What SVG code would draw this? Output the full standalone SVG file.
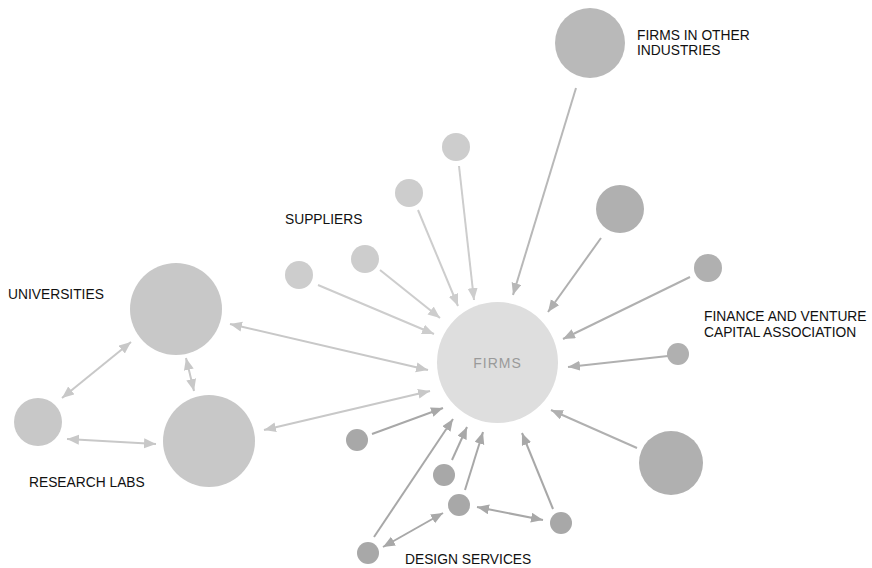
<svg xmlns="http://www.w3.org/2000/svg" width="872" height="568" viewBox="0 0 872 568">
<style>
text{font-family:"Liberation Sans",Arial,sans-serif;font-size:13.8px;fill:#111}
.lc{stroke-width:2;fill:none}
.sup{stroke:#cdcdcd}.uni{stroke:#c8c8c8}.oth{stroke:#b8b8b8}.fin{stroke:#b0b0b0}.des{stroke:#a8a8a8}
</style>
<defs>
<marker id="aS" markerUnits="userSpaceOnUse" markerWidth="13" markerHeight="11" refX="12" refY="5" orient="auto-start-reverse"><path d="M0,0 L12,5 L0,10 z" fill="#cdcdcd"/></marker>
<marker id="aU" markerUnits="userSpaceOnUse" markerWidth="13" markerHeight="11" refX="12" refY="5" orient="auto-start-reverse"><path d="M0,0 L12,5 L0,10 z" fill="#c8c8c8"/></marker>
<marker id="aO" markerUnits="userSpaceOnUse" markerWidth="13" markerHeight="11" refX="12" refY="5" orient="auto-start-reverse"><path d="M0,0 L12,5 L0,10 z" fill="#b8b8b8"/></marker>
<marker id="aF" markerUnits="userSpaceOnUse" markerWidth="13" markerHeight="11" refX="12" refY="5" orient="auto-start-reverse"><path d="M0,0 L12,5 L0,10 z" fill="#b0b0b0"/></marker>
<marker id="aD" markerUnits="userSpaceOnUse" markerWidth="13" markerHeight="11" refX="12" refY="5" orient="auto-start-reverse"><path d="M0,0 L12,5 L0,10 z" fill="#a8a8a8"/></marker>
</defs>
<g id="connectors">
<line class="lc sup" x1="318" y1="285" x2="434" y2="334" marker-end="url(#aS)"/>
<line class="lc sup" x1="380" y1="270" x2="440" y2="318" marker-end="url(#aS)"/>
<line class="lc sup" x1="418" y1="210" x2="458" y2="306" marker-end="url(#aS)"/>
<line class="lc sup" x1="459" y1="166" x2="474" y2="300" marker-end="url(#aS)"/>
<line class="lc oth" x1="576" y1="88" x2="513" y2="295" marker-end="url(#aO)"/>
<line class="lc fin" x1="601" y1="238" x2="548" y2="312" marker-end="url(#aF)"/>
<line class="lc fin" x1="690" y1="277" x2="563" y2="339" marker-end="url(#aF)"/>
<line class="lc fin" x1="668" y1="356" x2="568" y2="367" marker-end="url(#aF)"/>
<line class="lc fin" x1="637" y1="448" x2="551" y2="410" marker-end="url(#aF)"/>
<line class="lc uni" x1="230" y1="324" x2="428" y2="370" marker-start="url(#aU)" marker-end="url(#aU)"/>
<line class="lc uni" x1="264" y1="430" x2="430" y2="391" marker-start="url(#aU)" marker-end="url(#aU)"/>
<line class="lc uni" x1="131" y1="342" x2="62" y2="398" marker-start="url(#aU)" marker-end="url(#aU)"/>
<line class="lc uni" x1="186" y1="358" x2="194" y2="391" marker-start="url(#aU)" marker-end="url(#aU)"/>
<line class="lc uni" x1="67" y1="439" x2="156" y2="444" marker-start="url(#aU)" marker-end="url(#aU)"/>
<line class="lc des" x1="372" y1="434" x2="443" y2="408" marker-end="url(#aD)"/>
<line class="lc des" x1="374" y1="537" x2="453" y2="419" marker-end="url(#aD)"/>
<line class="lc des" x1="452" y1="460" x2="467" y2="427" marker-end="url(#aD)"/>
<line class="lc des" x1="465" y1="490" x2="483" y2="432" marker-end="url(#aD)"/>
<line class="lc des" x1="553" y1="509" x2="522" y2="433" marker-end="url(#aD)"/>
<line class="lc des" x1="477" y1="507" x2="543" y2="520" marker-start="url(#aD)" marker-end="url(#aD)"/>
<line class="lc des" x1="383" y1="547" x2="443" y2="513" marker-start="url(#aD)" marker-end="url(#aD)"/>
</g>
<g id="firms"><circle cx="497.5" cy="362.5" r="60.5" fill="#dedede"/><text x="497.5" y="368" text-anchor="middle" style="fill:#9a9a9a;font-size:14px;letter-spacing:1px">FIRMS</text></g>
<g id="other-industries"><circle cx="590" cy="43" r="35" fill="#b9b9b9"/></g>
<g id="finance-1"><circle cx="620" cy="209" r="24" fill="#b0b0b0"/></g>
<g id="finance-2"><circle cx="708" cy="268" r="14" fill="#b0b0b0"/></g>
<g id="finance-3"><circle cx="678" cy="354" r="11" fill="#b0b0b0"/></g>
<g id="finance-4"><circle cx="671" cy="463" r="32" fill="#b0b0b0"/></g>
<g id="supplier-1"><circle cx="299" cy="275" r="14" fill="#cdcdcd"/></g>
<g id="supplier-2"><circle cx="365" cy="259" r="14" fill="#cdcdcd"/></g>
<g id="supplier-3"><circle cx="409" cy="193" r="14" fill="#cdcdcd"/></g>
<g id="supplier-4"><circle cx="456" cy="147" r="14" fill="#cdcdcd"/></g>
<g id="universities"><circle cx="176" cy="309" r="46" fill="#c8c8c8"/></g>
<g id="research-lab-big"><circle cx="209" cy="441" r="46" fill="#c8c8c8"/></g>
<g id="research-lab-small"><circle cx="38" cy="422" r="24" fill="#c8c8c8"/></g>
<g id="design-1"><circle cx="357" cy="440" r="11" fill="#a8a8a8"/></g>
<g id="design-2"><circle cx="444" cy="475" r="11" fill="#a8a8a8"/></g>
<g id="design-3"><circle cx="459" cy="505" r="11" fill="#a8a8a8"/></g>
<g id="design-4"><circle cx="561" cy="523" r="11" fill="#a8a8a8"/></g>
<g id="design-5"><circle cx="368" cy="553" r="11" fill="#a8a8a8"/></g>
<g id="labels">
<text x="637" y="40">FIRMS IN OTHER</text>
<text x="637" y="55">INDUSTRIES</text>
<text x="285" y="224">SUPPLIERS</text>
<text x="8" y="299">UNIVERSITIES</text>
<text x="704" y="321">FINANCE AND VENTURE</text>
<text x="704" y="337">CAPITAL ASSOCIATION</text>
<text x="29" y="487">RESEARCH LABS</text>
<text x="405" y="564">DESIGN SERVICES</text>
</g>
</svg>
